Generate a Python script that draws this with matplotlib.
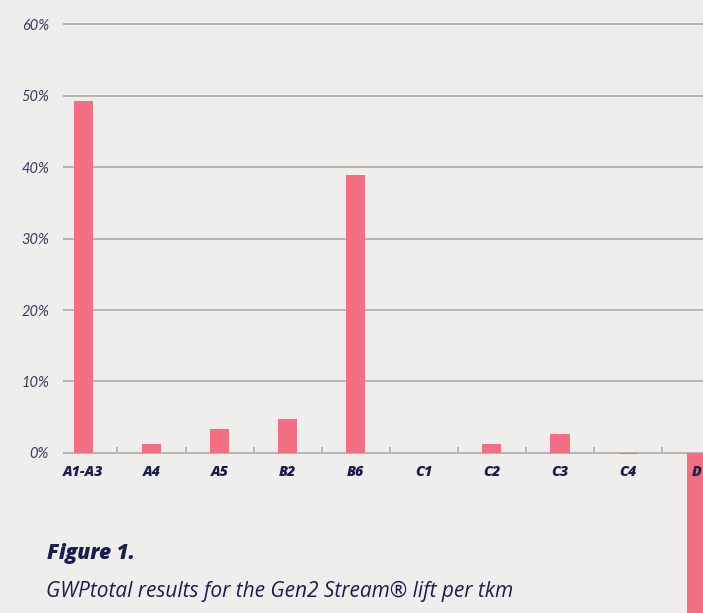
import matplotlib
matplotlib.use("Agg")
import matplotlib.pyplot as plt
import numpy as np

categories = ["A1-A3", "A4", "A5", "B2", "B6", "C1", "C2", "C3", "C4", "D"]
values = [49.2, 1.2, 3.3, 4.8, 38.9, 0.0, 1.2, 2.6, -0.1, -30.0]
y_ticks = [0, 10, 20, 30, 40, 50, 60]
y_tick_labels = ["0%", "10%", "20%", "30%", "40%", "50%", "60%"]
fig_title = "Figure 1."
fig_caption = "GWPtotal results for the Gen2 Stream\u00ae lift per tkm"

BG = "#efeeec"
BAR = "#f26e82"
NAVY = "#1b1d4d"
GRID = "#b3b1ab"

W, H = 703, 613
fig = plt.figure(figsize=(W / 100, H / 100), dpi=100, facecolor=BG)
ax = fig.add_axes([63 / W, 0, 1 - 63 / W, 1])
ax.set_facecolor(BG)

x = np.arange(len(categories))
ax.bar(x, values, width=0.28, color=BAR, zorder=3)

ax.set_ylim(-22.38, 63.36)
ax.set_xlim(-0.30, 9.10)

ax.set_yticks(y_ticks)
ax.set_yticklabels(y_tick_labels, fontfamily="Lato", fontstyle="italic",
                   fontsize=10.5, color="#3a3b5e")
ax.tick_params(axis="y", length=0, pad=10)
ax.set_xticks([])
ax.yaxis.grid(True, color=GRID, linewidth=1.3, zorder=0)
for s in ax.spines.values():
    s.set_visible(False)

ax.vlines(x[:-1] + 0.5, 0, 0.85, color=GRID, linewidth=1.3, zorder=2)

for xi, cat in zip(x, categories):
    ax.text(xi, -2.6, cat, ha="center", va="center", fontfamily="Open Sans",
            fontstyle="italic", fontweight="heavy", fontsize=10.3, color=NAVY,
            zorder=5, clip_on=False)

fig.text(47 / W, 1 - 554 / H, fig_title, ha="left", va="center",
         fontfamily="Open Sans", fontstyle="italic", fontweight="heavy",
         fontsize=15, color=NAVY)
fig.text(46 / W, 1 - 591 / H, fig_caption, ha="left", va="center",
         fontfamily="Open Sans", fontstyle="italic", fontweight="normal",
         fontsize=15, color=NAVY)

fig.savefig("out.png", dpi=100, facecolor=BG)
